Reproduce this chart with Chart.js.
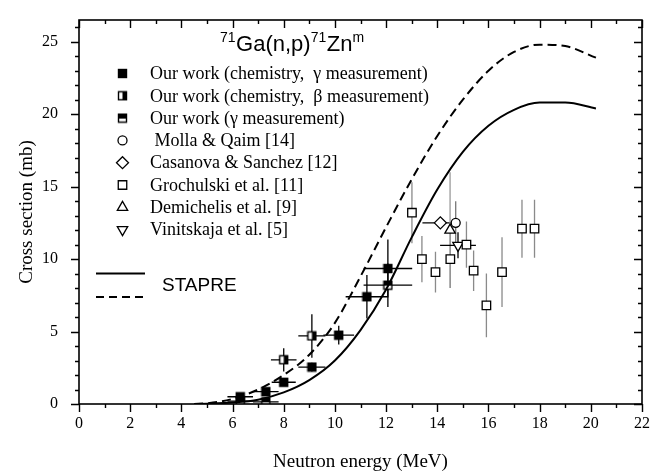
<!DOCTYPE html>
<html>
<head>
<meta charset="utf-8">
<script src="https://cdn.jsdelivr.net/npm/chart.js@4.4.1/dist/chart.umd.min.js"></script>
<style>
  html, body { margin: 0; padding: 0; background: #fff; }
  #wrap { width: 665px; height: 476px; }
</style>
</head>
<body>
<div id="wrap"><canvas id="xsChart" width="665" height="476"></canvas></div>
<script>
// 71Ga(n,p)71Zn^m excitation function

// axis ticks
const xTickValues = [0, 2, 4, 6, 8, 10, 12, 14, 16, 18, 20, 22];
const yTickValues = [0, 5, 10, 15, 20, 25];

// STAPRE calculations
const curveEnergy = [4.5, 5, 6, 7, 8, 9, 10, 11, 12, 13, 14, 15, 16, 17, 18, 19, 20.2];
const stapreSolid = [0, 0.02, 0.1, 0.3, 0.8, 1.65, 3.0, 5.1, 7.9, 11.5, 14.8, 17.4, 19.2, 20.3, 20.8, 20.8, 20.4];
const stapreDashed = [0, 0.05, 0.35, 1.0, 2.0, 3.4, 5.6, 8.8, 12.2, 15.5, 18.5, 21.0, 23.0, 24.3, 24.8, 24.7, 23.9];

// Our work (chemistry, gamma measurement)
const chemGammaE = [6.3, 7.3, 8.0, 9.1, 10.15, 11.25, 12.07];
const chemGammaS = [0.5, 0.85, 1.5, 2.55, 4.75, 7.4, 9.35];
const chemGammaDE = [0.5, 0.5, 0.47, 0.53, 0.6, 0.83, 0.95];
const chemGammaDS = [0.15, 0.2, 0.25, 0.3, 0.65, 1.5, 2.0];

// Our work (chemistry, beta measurement)
const chemBetaE = [8.0, 9.1];
const chemBetaS = [3.05, 4.7];
const chemBetaDE = [0.5, 0.53];
const chemBetaDS = [0.8, 1.5];

// Our work (gamma measurement)
const gammaE = [6.3, 7.3, 12.07];
const gammaS = [0.2, 0.15, 8.2];
const gammaDE = [0.5, 0.5, 0.95];
const gammaDS = [0.1, 0.1, 1.5];

// literature
const mollaE = [14.72];
const mollaS = [12.5];
const mollaDS = [1.5];

const casanovaE = [14.12];
const casanovaS = [12.5];
const casanovaDE = [0.7];

const grochulskiE = [13.01, 13.4, 13.93, 14.51, 15.14, 15.42, 15.92, 16.53, 17.31, 17.8];
const grochulskiS = [13.2, 10.0, 9.1, 10.0, 11.0, 9.2, 6.8, 9.1, 12.1, 12.1];
const grochulskiDE = [0.12, 0.12, 0.12, 0.12, 0.12, 0.12, 0.12, 0.12, 0.12, 0.12];
const grochulskiDS = [2.1, 1.6, 1.4, 2.0, 1.6, 1.4, 2.2, 2.4, 2.0, 2.0];

const demichelisE = [14.5];
const demichelisS = [12.0];
const demichelisDS = [4.0];

const vinitskajaE = [14.81];
const vinitskajaS = [10.95];
const vinitskajaDE = [0.7];
const vinitskajaDS = [0.9];

const legendLabels = [
    'Our work (chemistry,  \u03b3 measurement)',
    'Our work (chemistry,  \u03b2 measurement)',
    'Our work (\u03b3 measurement)',
    ' Molla & Qaim [14]',
    'Casanova & Sanchez [12]',
    'Grochulski et al. [11]',
    'Demichelis et al. [9]',
    'Vinitskaja et al. [5]'
];

const SERIF = '"Liberation Serif", "Times New Roman", serif';
const SANS = '"Liberation Sans", Arial, sans-serif';

function toPoints(xs, ys) {
    return xs.map((v, i) => ({ x: v, y: ys[i] }));
}

// small square markers with black/white parts
function squareMarker(kind) {
    const s = 9;
    const c = document.createElement('canvas');
    c.width = s + 2;
    c.height = s + 2;
    const g = c.getContext('2d');
    g.fillStyle = '#fff';
    g.fillRect(1, 1, s, s);
    g.fillStyle = '#000';
    if (kind === 'full') g.fillRect(1, 1, s, s);
    if (kind === 'right') g.fillRect(1 + s / 2, 1, s / 2, s);
    if (kind === 'top') g.fillRect(1, 1, s, 5);
    g.strokeStyle = '#000';
    g.lineWidth = 1.4;
    g.strokeRect(1.5, 1.5, s - 1, s - 1);
    return c;
}

function markerSet(style, extra) {
    return Object.assign({
        type: 'scatter',
        pointStyle: style,
        pointRadius: 6,
        pointBackgroundColor: '#fff',
        pointBorderColor: '#000',
        pointBorderWidth: 1.3,
        errColor: '#000'
    }, extra);
}

const datasets = [
    {
        type: 'line', label: 'STAPRE', data: toPoints(curveEnergy, stapreSolid),
        borderColor: '#000', borderWidth: 2, pointRadius: 0, fill: false,
        cubicInterpolationMode: 'monotone'
    },
    {
        type: 'line', label: 'STAPRE dashed', data: toPoints(curveEnergy, stapreDashed),
        borderColor: '#000', borderWidth: 2, borderDash: [9, 5], pointRadius: 0, fill: false,
        cubicInterpolationMode: 'monotone'
    },
    markerSet(squareMarker('full'), { data: toPoints(chemGammaE, chemGammaS), errE: chemGammaDE, errS: chemGammaDS }),
    markerSet(squareMarker('right'), { data: toPoints(chemBetaE, chemBetaS), errE: chemBetaDE, errS: chemBetaDS }),
    markerSet(squareMarker('top'), { data: toPoints(gammaE, gammaS), errE: gammaDE, errS: gammaDS }),
    markerSet('circle', { data: toPoints(mollaE, mollaS), errS: mollaDS, pointRadius: 4.5, errColor: '#777' }),
    markerSet('rectRot', { data: toPoints(casanovaE, casanovaS), errE: casanovaDE, pointRadius: 6 }),
    markerSet('rect', { data: toPoints(grochulskiE, grochulskiS), errE: grochulskiDE, errS: grochulskiDS, errColor: '#8a8a8a' }),
    markerSet('triangle', { data: toPoints(demichelisE, demichelisS), errS: demichelisDS, pointRadius: 6, errColor: '#999' }),
    markerSet('triangle', { data: toPoints(vinitskajaE, vinitskajaS), errE: vinitskajaDE, errS: vinitskajaDS, pointRadius: 6, rotation: 180 })
];

// error bars drawn under the markers
const errorBars = {
    id: 'errorBars',
    beforeDatasetsDraw(chart) {
        const { ctx, scales: { x, y } } = chart;
        ctx.save();
        ctx.lineWidth = 1.3;
        chart.data.datasets.forEach(ds => {
            if (!ds.errE && !ds.errS) return;
            ctx.strokeStyle = ds.errColor || '#000';
            ctx.beginPath();
            ds.data.forEach((p, i) => {
                const px = x.getPixelForValue(p.x);
                const py = y.getPixelForValue(p.y);
                if (ds.errE && ds.errE[i]) {
                    ctx.moveTo(x.getPixelForValue(p.x - ds.errE[i]), py);
                    ctx.lineTo(x.getPixelForValue(p.x + ds.errE[i]), py);
                }
                if (ds.errS && ds.errS[i]) {
                    ctx.moveTo(px, y.getPixelForValue(p.y - ds.errS[i]));
                    ctx.lineTo(px, y.getPixelForValue(p.y + ds.errS[i]));
                }
            });
            ctx.stroke();
        });
        ctx.restore();
    }
};

// box frame with major / minor ticks
const frameTicks = {
    id: 'frameTicks',
    afterDatasetsDraw(chart) {
        const { ctx, chartArea: a, scales: { x, y } } = chart;
        ctx.save();
        ctx.strokeStyle = '#000';
        ctx.lineWidth = 1.6;
        ctx.strokeRect(a.left, a.top, a.right - a.left, a.bottom - a.top);
        ctx.lineWidth = 1.4;
        ctx.beginPath();
        for (let v = 0; v <= x.max; v += 1) {
            const px = Math.round(x.getPixelForValue(v)) + 0.5;
            const len = v % 2 === 0 ? 8 : 4;
            ctx.moveTo(px, a.bottom); ctx.lineTo(px, a.bottom + len);
            ctx.moveTo(px, a.top); ctx.lineTo(px, a.top + len);
        }
        for (let v = 0; v <= y.max; v += 1) {
            const py = Math.round(y.getPixelForValue(v)) + 0.5;
            const len = v % 5 === 0 ? 8 : 4;
            ctx.moveTo(a.left, py); ctx.lineTo(a.left - len, py);
            ctx.moveTo(a.right, py); ctx.lineTo(a.right - len, py);
        }
        ctx.stroke();
        ctx.restore();
    }
};

// title and legend inside the plot
const annotations = {
    id: 'annotations',
    afterDraw(chart) {
        const { ctx } = chart;
        ctx.save();
        ctx.fillStyle = '#000';
        ctx.textBaseline = 'alphabetic';

        // title with superscripts
        let tx = 220;
        const base = 51;
        const parts = [['71', 14, -9], ['Ga(n,p)', 22, 0], ['71', 14, -9], ['Zn', 22, 0], ['m', 14, -9]];
        parts.forEach(([t, size, dy]) => {
            ctx.font = size + 'px ' + SANS;
            ctx.fillText(t, tx, base + dy);
            tx += ctx.measureText(t).width + (size < 20 ? 0.5 : 0);
        });

        // marker legend
        const rowY0 = 73.5, rowStep = 22.3, symX = 122.5, textX = 150;
        ctx.font = '18px ' + SERIF;
        ctx.textBaseline = 'middle';
        legendLabels.forEach((label, i) => {
            const ds = chart.data.datasets[i + 2];
            const yy = rowY0 + i * rowStep;
            ctx.fillStyle = ds.pointBackgroundColor;
            ctx.strokeStyle = ds.pointBorderColor;
            ctx.lineWidth = ds.pointBorderWidth;
            Chart.helpers.drawPoint(ctx, {
                pointStyle: ds.pointStyle,
                radius: ds.pointRadius,
                rotation: ds.rotation || 0,
                borderWidth: ds.pointBorderWidth
            }, symX, yy);
            ctx.fillStyle = '#000';
            ctx.fillText(label, textX, yy + 1);
        });

        // STAPRE line legend
        ctx.strokeStyle = '#000';
        ctx.lineWidth = 2;
        ctx.beginPath();
        ctx.moveTo(96, 273.5); ctx.lineTo(145, 273.5);
        ctx.stroke();
        ctx.setLineDash([8, 5]);
        ctx.beginPath();
        ctx.moveTo(96, 297); ctx.lineTo(145, 297);
        ctx.stroke();
        ctx.setLineDash([]);
        ctx.font = '19px ' + SANS;
        ctx.fillText('STAPRE', 162, 286);
        ctx.restore();
    }
};

new Chart(document.getElementById('xsChart'), {
    data: { datasets: datasets },
    options: {
        responsive: false,
        animation: false,
        devicePixelRatio: 1,
        events: [],
        layout: { padding: { left: 0, right: 23, top: 20, bottom: 0 } },
        plugins: { legend: { display: false }, tooltip: { enabled: false } },
        scales: {
            x: {
                type: 'linear', min: 0, max: 22,
                afterBuildTicks: s => { s.ticks = xTickValues.map(v => ({ value: v })); },
                afterFit: s => { s.height = 72; s.paddingLeft = 0; s.paddingRight = 0; },
                grid: { display: false, drawTicks: false },
                border: { display: false },
                ticks: { color: '#000', padding: 10, maxRotation: 0, font: { family: SERIF, size: 16 } },
                title: { display: true, text: 'Neutron energy (MeV)', color: '#000',
                         font: { family: SERIF, size: 19 }, padding: { top: 0, bottom: 3 } }
            },
            y: {
                type: 'linear', min: 0, max: 26.5,
                afterBuildTicks: s => { s.ticks = yTickValues.map(v => ({ value: v })); },
                afterFit: s => { s.width = 79; s.paddingTop = 0; s.paddingBottom = 0; },
                grid: { display: false, drawTicks: false },
                border: { display: false },
                ticks: { color: '#000', padding: 21, font: { family: SERIF, size: 16 } },
                title: { display: true, text: 'Cross section (mb)', color: '#000',
                         font: { family: SERIF, size: 19 }, padding: { top: 16, bottom: 0 } }
            }
        }
    },
    plugins: [errorBars, frameTicks, annotations]
});
</script>
</body>
</html>
